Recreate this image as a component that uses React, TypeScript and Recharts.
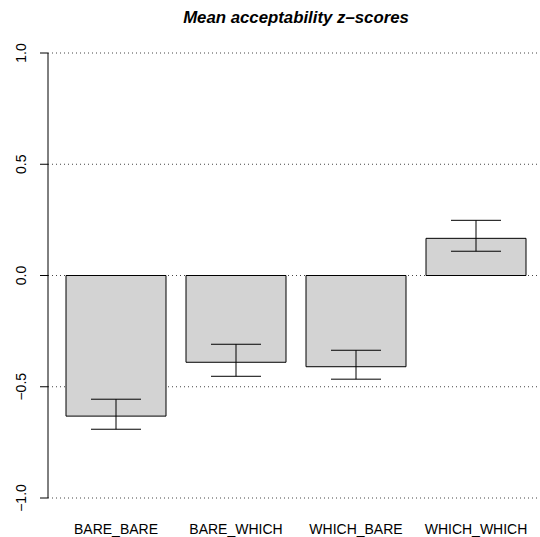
import React from 'react'
import { BarChart, Bar, XAxis, YAxis, CartesianGrid, ErrorBar } from 'recharts'

// values
const conditions = ['BARE_BARE', 'BARE_WHICH', 'WHICH_BARE', 'WHICH_WHICH']
const means = [-0.632, -0.39, -0.41, 0.167]
const upperCI = [-0.556, -0.309, -0.336, 0.248]
const lowerCI = [-0.691, -0.453, -0.466, 0.109]
const yTicks = [-1, -0.5, 0, 0.5, 1]

const data = conditions.map((c, i) => ({
  condition: c,
  mean: means[i],
  err: [means[i] - lowerCI[i], upperCI[i] - means[i]],
}))

const FONT = '"Liberation Sans", Arial, Helvetica, sans-serif'

const YTick = (props: any) => {
  const { x, y, payload } = props
  const tx = x - 12
  return (
    <text
      x={tx}
      y={y}
      transform={`rotate(-90, ${tx}, ${y})`}
      textAnchor="middle"
      fontSize={14}
      fontFamily={FONT}
      fill="#000"
    >
      {payload.value.toFixed(1).replace('-', '\u2212')}
    </text>
  )
}

const XTick = (props: any) => {
  const { x, y, payload } = props
  return (
    <text x={x} y={y + 28} textAnchor="middle" fontSize={14} fontFamily={FONT} fill="#000">
      {payload.value}
    </text>
  )
}

export default function App() {
  return (
    <div style={{ position: 'absolute', left: 0, top: 0, width: 540, height: 537, background: '#fff' }}>
      <div
        style={{
          position: 'absolute',
          left: 96,
          width: 400,
          top: 9,
          textAlign: 'center',
          fontFamily: FONT,
          fontSize: 16.8,
          fontWeight: 'bold',
          fontStyle: 'italic',
          lineHeight: '17px',
        }}
      >
        Mean acceptability z{'\u2013'}scores
      </div>
      <BarChart
        width={540}
        height={537}
        data={data}
        margin={{ top: 53, right: 0, bottom: 0, left: 0 }}
      >
        <CartesianGrid
          vertical={false}
          horizontalValues={yTicks}
          stroke="#444"
          strokeDasharray="1 3"
        />
        <XAxis
          dataKey="condition"
          height={39}
          axisLine={false}
          tickLine={false}
          padding={{ left: 8, right: 4 }}
          tick={<XTick />}
          interval={0}
        />
        <YAxis
          type="number"
          domain={[-1, 1]}
          ticks={yTicks}
          width={48}
          axisLine={{ stroke: '#000' }}
          tickLine={{ stroke: '#000' }}
          tickSize={8}
          tick={<YTick />}
          allowDataOverflow
        />
        <Bar dataKey="mean" fill="#d3d3d3" stroke="#000" strokeWidth={1} barSize={100} isAnimationActive={false}>
          <ErrorBar dataKey="err" width={25} stroke="#000" strokeWidth={1} direction="y" isAnimationActive={false} />
        </Bar>
      </BarChart>
    </div>
  )
}
